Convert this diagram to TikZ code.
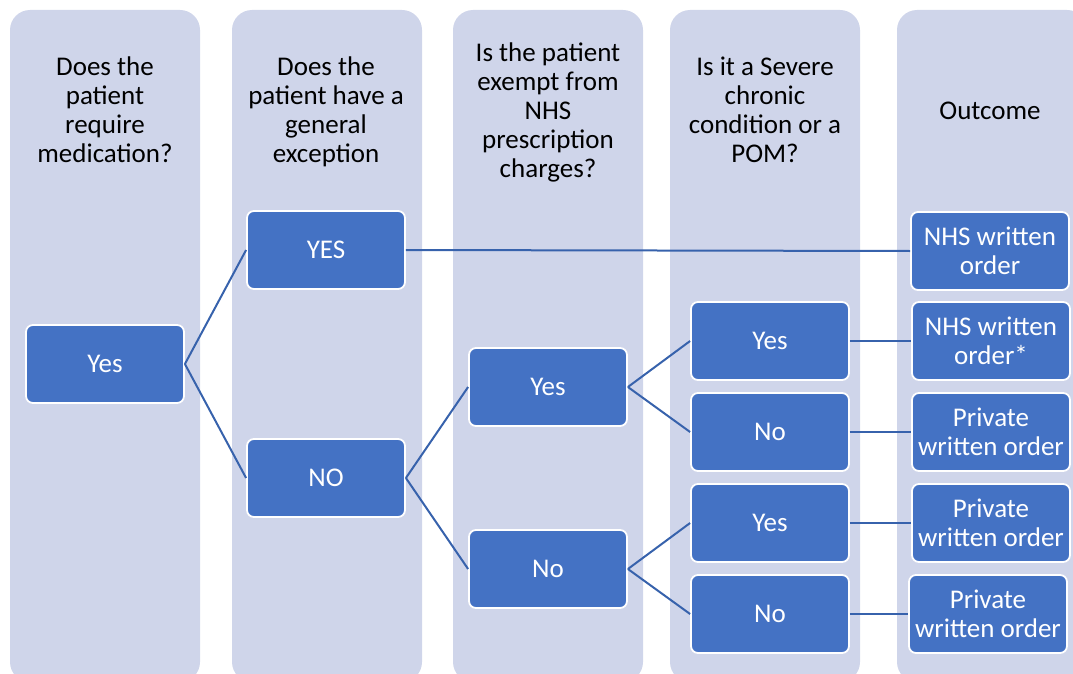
\documentclass[tikz,border=0pt]{standalone}
\usepackage{fontspec}
\setmainfont{Carlito}
\usetikzlibrary{positioning,calc}
\definecolor{lane}{HTML}{CFD5EA}
\definecolor{boxblue}{HTML}{4472C4}
\definecolor{linkblue}{HTML}{3762AC}

\begin{document}
\begin{tikzpicture}
[x=1pt,y=-1pt,
every node/.style={font=\fontsize{27}{29}\selectfont,align=center},
lanebox/.style={fill=lane,rounded corners=20pt},
heading/.style={execute at begin node=\strut,execute at end node=\strut},
choice/.style={fill=boxblue,draw=white,line width=1.8pt,rounded corners=7pt,
  minimum width=158pt,minimum height=78pt,text=white,inner sep=1pt},
link/.style={draw=linkblue,line width=2pt}]
\useasboundingbox (0,0) rectangle (1073,674);
\clip (0,0) rectangle (1073,674);
% the five lanes
\foreach \lx in {10,232,453,670,897}
  \fill[lanebox] (\lx,10) rectangle ++(190,672);
% lane headings
\node[heading] (hMed) at (105,114) {Does the\\patient\\require\\medication?};
\node[heading] (hGen) at (326,114) {Does the\\patient have a\\general\\exception};
\node[heading] (hEx) at (548,114) {Is the patient\\exempt from\\NHS\\prescription\\charges?};
\node[heading] (hSev) at (765,114) {Is it a Severe\\chronic\\condition or a\\POM?};
\node[heading] (hOut) at (990,114) {Outcome};
% decisions
\node[choice] (yesA) at (105,364) {Yes};
\node[choice] (genYes) at (326,250) {YES};
\node[choice] (genNo) at (326,478) {NO};
\node[choice] (exYes) at (548,387) {Yes};
\node[choice] (exNo) at (548,569) {No};
\node[choice] (sevYesA) at (770,341) {Yes};
\node[choice] (sevNoA) at (770,432) {No};
\node[choice] (sevYesB) at (770,523) {Yes};
\node[choice] (sevNoB) at (770,614) {No};
% outcomes
\node[choice] (outA) at (990,251) {NHS written\\order};
\node[choice] (outB) at (991,341) {NHS written\\order*};
\node[choice] (outC) at (991,432) {Private\\written order};
\node[choice] (outD) at (991,523) {Private\\written order};
\node[choice] (outE) at (988,614) {Private\\written order};
% connectors
\draw[link] (yesA.east) -- (genYes.west);
\draw[link] (yesA.east) -- (genNo.west);
\draw[link] (genYes.east) -- (outA.west);
\draw[link] (genNo.east) -- (exYes.west);
\draw[link] (genNo.east) -- (exNo.west);
\draw[link] (exYes.east) -- (sevYesA.west);
\draw[link] (exYes.east) -- (sevNoA.west);
\draw[link] (exNo.east) -- (sevYesB.west);
\draw[link] (exNo.east) -- (sevNoB.west);
\draw[link] (sevYesA.east) -- (outB.west);
\draw[link] (sevNoA.east) -- (outC.west);
\draw[link] (sevYesB.east) -- (outD.west);
\draw[link] (sevNoB.east) -- (outE.west);
\end{tikzpicture}
\end{document}
